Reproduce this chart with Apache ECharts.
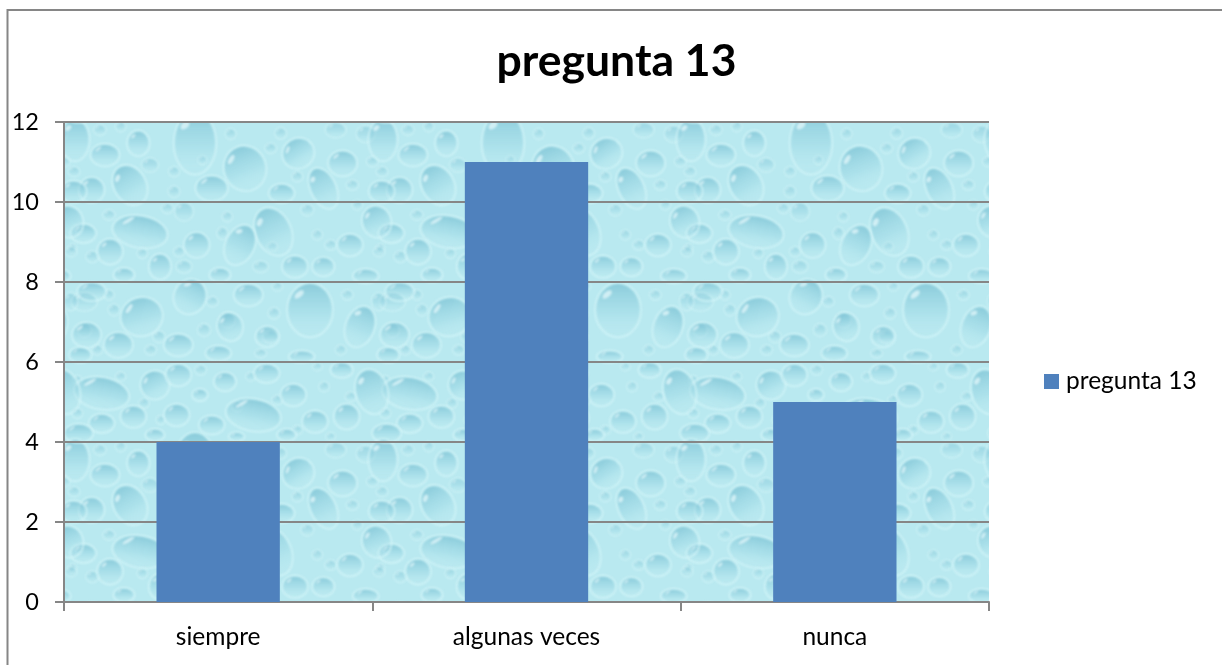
<!DOCTYPE html>
<html>
<head>
<meta charset="utf-8">
<style>html,body{margin:0;padding:0;background:#fff}#c{width:1222px;height:665px}</style>
<script src="https://cdn.jsdelivr.net/npm/echarts@6/dist/echarts.min.js"></script>
</head>
<body>
<div id="c"></div>
<script>
const categories = ['siempre', 'algunas veces', 'nunca'];
const seriesName = 'pregunta 13';
const values = [4, 11, 5];
const yTicks = [0, 2, 4, 6, 8, 10, 12];

// Decorative water-drop wallpaper of the plot area: [x, y, rx, ry, angleDeg] in a 3x tile sketch
const bigDrops = [
 [393,70,60,90,0],[543,145,60,65,-20],[198,195,45,60,-30],[443,205,45,35,0],[703,100,45,42,-30],
 [778,205,35,62,-25],[836,130,40,35,0],[123,105,40,30,0],[223,70,30,35,0],[33,60,40,60,0],
 [83,210,35,35,0],[653,220,35,25,0],[953,215,35,30,0],[228,335,80,45,10],[628,335,50,72,-25],
 [528,375,40,60,25],[398,375,35,35,0],[138,395,35,35,0],[58,340,35,25,0],[288,440,30,35,0],
 [693,440,35,30,0],[778,440,30,25,0],[858,375,35,30,0],[938,305,40,45,-20],[233,590,60,55,-15],
 [738,570,65,78,0],[888,620,40,60,20],[378,530,45,50,25],[553,525,40,30,0],[68,645,40,35,0],
 [163,675,40,35,0],[343,675,40,30,0],[498,620,35,40,-15],[83,515,40,25,0],[463,700,35,20,0],
 [713,710,35,15,0],[973,705,30,20,0],[180,465,28,18,0],[468,465,28,18,0],[905,468,35,18,0],[610,650,32,28,0],
 [113,820,80,45,10],[273,795,40,40,-25],[343,765,35,30,0],[483,785,30,25,0],[408,825,20,15,0],
 [688,825,35,30,0],[923,815,45,65,-15],[568,885,80,45,10],[338,885,35,30,0],[208,890,35,30,0],
 [113,910,35,25,0],[443,915,35,25,0],[753,905,35,30,0],[848,890,35,35,0],[968,940,40,25,0],
 [608,760,35,25,0],[833,750,30,20,0],[273,945,25,15,0],[668,945,25,15,0],[518,950,20,10,0]
];
const smallDrops = [
 [108,30,15,13],[170,20,12,12],[258,135,22,18],[500,42,13,13],[650,40,14,14],[815,30,28,20],[905,42,25,22],
 [30,155,14,12],[330,155,13,12],[620,85,14,12],[330,215,14,14],[925,125,14,12],[865,195,15,12],
 [25,385,10,10],[85,410,16,14],[135,285,15,12],[310,265,14,12],[360,275,25,25],[360,440,20,16],
 [590,440,20,14],[475,340,13,15],[730,270,16,14],[760,345,12,12],[800,375,14,12],[945,395,14,12],
 [235,400,12,12],[345,395,13,12],[625,380,12,10],[45,330,8,8],[135,525,12,12],[150,570,14,14],
 [445,545,14,12],[490,600,20,20],[620,650,20,16],[630,580,14,14],[420,630,16,16],[850,525,14,12],
 [985,630,18,18],[985,545,35,25],[20,545,18,24],[285,650,15,14],[640,500,12,10],[830,690,13,12],
 [100,690,12,12],[260,690,14,12],[590,700,14,10],[415,120,10,10],[490,290,12,12],[700,170,13,12],[880,255,12,12],
 [40,780,10,10],[170,770,12,10],[240,850,12,12],[410,750,14,12],[520,860,12,12],[640,840,13,11],[780,800,12,12],
 [860,830,13,11],[40,880,13,12],[290,900,10,10],[700,930,12,10],[800,950,11,9],[560,770,11,10],[760,740,11,9]
];

function makeTile() {
  const W = 308, H = 320, ox = 64, oy = 120;
  const c = document.createElement('canvas');
  c.width = W; c.height = H;
  const g = c.getContext('2d');
  g.fillStyle = '#b9e9f0';
  g.fillRect(0, 0, W, H);
  const drop = (x, y, rx, ry, a, big) => {
    g.save();
    g.translate(x, y);
    g.rotate(a * Math.PI / 180);
    g.strokeStyle = 'rgba(214,246,250,0.7)';
    g.lineWidth = big ? 2 : 1.2;
    g.beginPath(); g.ellipse(0, 0, rx + 1.2, ry + 1.2, 0, 0, Math.PI * 2); g.stroke();
    const lg = g.createLinearGradient(0, -ry, 0, ry);
    lg.addColorStop(0, 'rgba(118,190,209,' + (big ? 0.68 : 0.42) + ')');
    lg.addColorStop(0.55, 'rgba(146,210,225,0.35)');
    lg.addColorStop(1, 'rgba(195,238,244,0.02)');
    g.fillStyle = lg;
    g.beginPath(); g.ellipse(0, 0, rx, ry, 0, 0, Math.PI * 2); g.fill();
    g.fillStyle = 'rgba(232,250,252,0.7)';
    g.beginPath(); g.ellipse(-rx * 0.5, -ry * 0.6, Math.max(rx * 0.26, 1), Math.max(ry * 0.11, 0.7), -0.7, 0, Math.PI * 2); g.fill();
    g.restore();
  };
  g.filter = 'blur(1px)';
  const each = (list, big) => list.forEach(d => {
    const x = d[0] / 3 + ox, y = d[1] / 3 + oy;
    for (let i = -1; i <= 5; i++) for (let j = -1; j <= 3; j++) {
      const px = x - i * W, py = y - j * H;
      if (px > -40 && px < W + 40 && py > -40 && py < H + 40) {
        drop(px, py, d[2] / 3, d[3] / 3, d[4] || 0, big);
      }
    }
  });
  each(smallDrops, false);
  each(bigDrops, true);
  return c;
}

const INK = '#000000', LINE = '#868686';
const FONT = 'Lato, "Open Sans", sans-serif';
const chart = echarts.init(document.getElementById('c'), null, { renderer: 'canvas' });
chart.setOption({
  animation: false,
  backgroundColor: '#ffffff',
  title: {
    text: seriesName, left: 611.5, top: 34, textAlign: 'center',
    textStyle: { fontFamily: FONT, fontWeight: 'bold', fontSize: 44.5, color: INK }
  },
  legend: {
    data: [seriesName], left: 1039, top: 364, itemWidth: 15, itemHeight: 15, itemGap: 6,
    icon: 'rect',
    textStyle: { fontFamily: FONT, fontSize: 24.5, color: INK, padding: [0, 0, 0, 2] }
  },
  grid: {
    left: 64, right: 233, top: 122, bottom: 63, show: true, borderWidth: 0,
    backgroundColor: { image: makeTile(), repeat: 'repeat' }
  },
  xAxis: {
    type: 'category', data: categories, boundaryGap: true,
    axisLine: { show: true, lineStyle: { color: LINE, width: 2 } },
    axisTick: { show: true, alignWithLabel: false, length: 9, lineStyle: { color: LINE, width: 2 } },
    axisLabel: { fontFamily: FONT, fontSize: 24.5, color: INK, margin: 23 },
    splitLine: { show: false }
  },
  yAxis: {
    type: 'value', min: yTicks[0], max: yTicks[yTicks.length - 1], interval: yTicks[1] - yTicks[0],
    axisLine: { show: true, lineStyle: { color: LINE, width: 2 } },
    axisTick: { show: true, length: 9, lineStyle: { color: LINE, width: 2 } },
    axisLabel: { fontFamily: FONT, fontSize: 23.5, color: INK, margin: 25 },
    splitLine: { show: true, lineStyle: { color: LINE, width: 2 } }
  },
  series: [{
    name: seriesName, type: 'bar', data: values, barWidth: '40%',
    itemStyle: { color: '#4f81bd' }
  }],
  graphic: [
    { type: 'line', silent: true, shape: { x1: 7.5, y1: 10, x2: 1222, y2: 10 }, style: { stroke: LINE, lineWidth: 2 } },
    { type: 'line', silent: true, shape: { x1: 7.5, y1: 9, x2: 7.5, y2: 665 }, style: { stroke: LINE, lineWidth: 2 } }
  ]
});
</script>
</body>
</html>
